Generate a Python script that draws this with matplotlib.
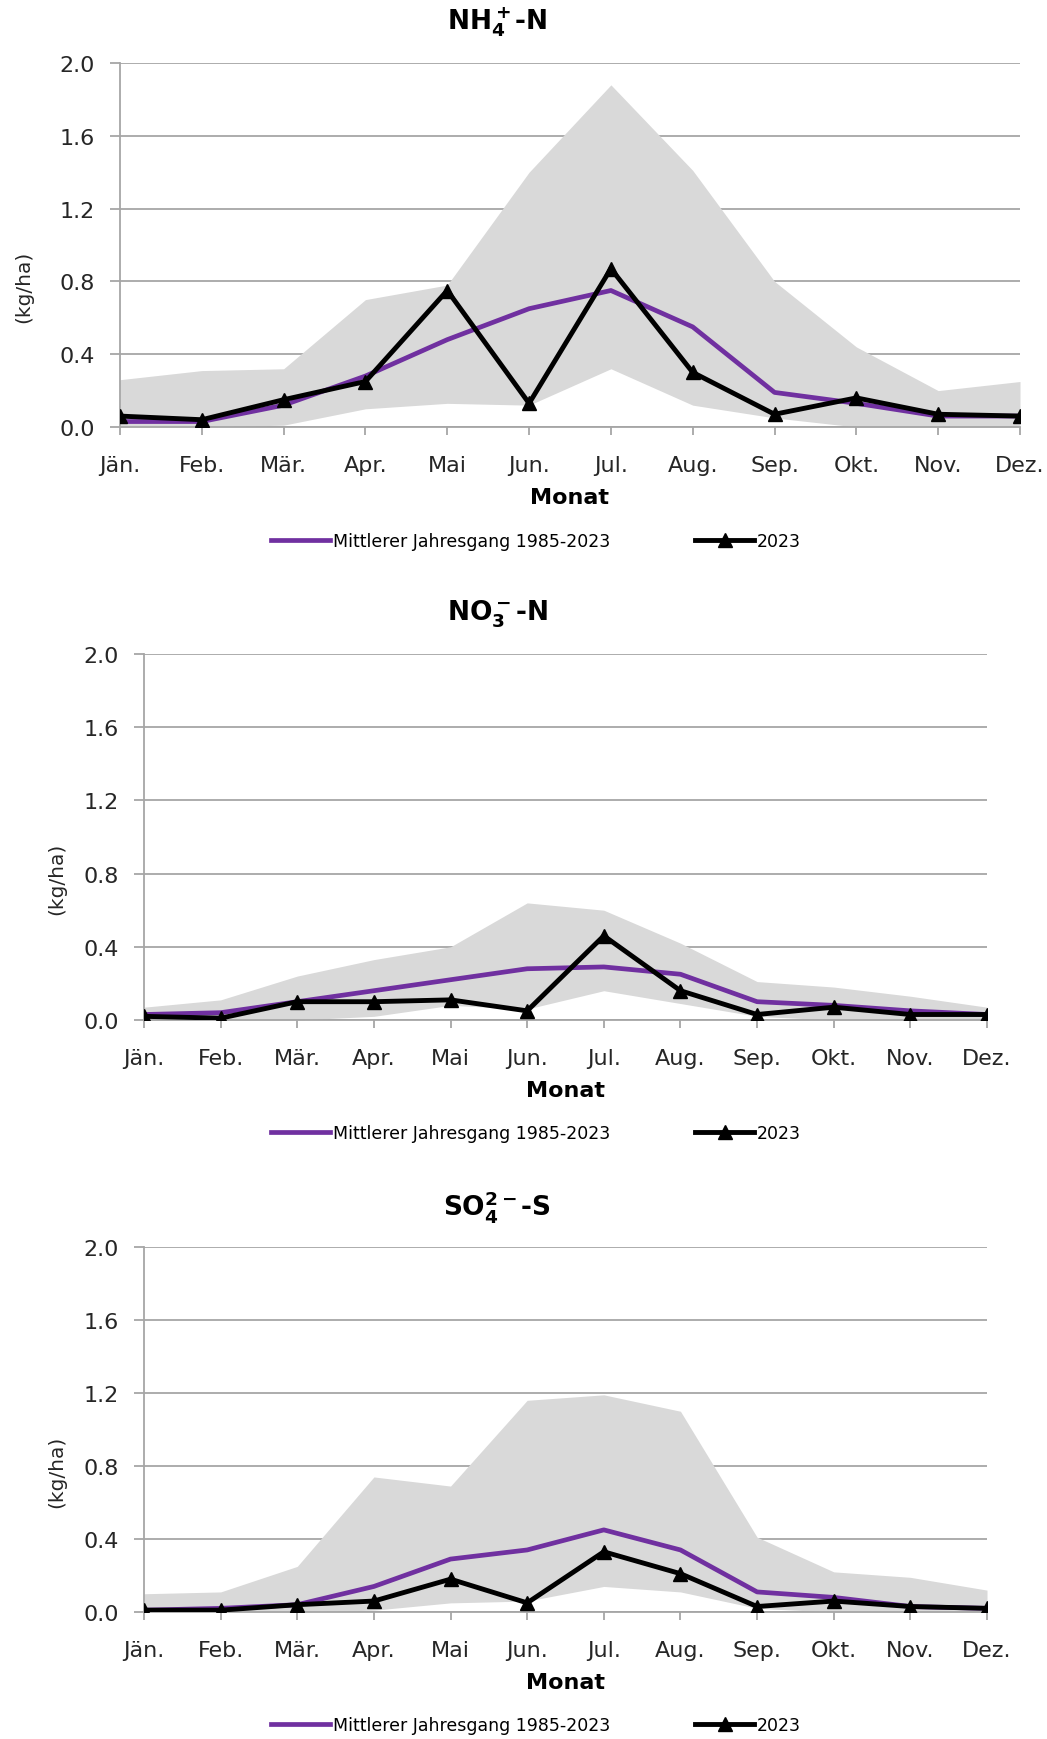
import matplotlib.pyplot as plt

months = ['Jän.', 'Feb.', 'Mär.', 'Apr.', 'Mai', 'Jun.', 'Jul.', 'Aug.',
          'Sep.', 'Okt.', 'Nov.', 'Dez.']
yticks = [0.0, 0.4, 0.8, 1.2, 1.6, 2.0]

# NH4+-N
nh4_max = [0.26, 0.31, 0.32, 0.70, 0.78, 1.40, 1.88, 1.41, 0.80, 0.44, 0.20, 0.25]
nh4_min = [0.00, 0.00, 0.01, 0.10, 0.13, 0.12, 0.32, 0.12, 0.05, 0.00, 0.00, 0.00]
nh4_mean = [0.03, 0.03, 0.12, 0.28, 0.48, 0.65, 0.75, 0.55, 0.19, 0.13, 0.06, 0.06]
nh4_2023 = [0.06, 0.04, 0.15, 0.25, 0.75, 0.13, 0.87, 0.30, 0.07, 0.16, 0.07, 0.06]

# NO3--N
no3_max = [0.07, 0.11, 0.24, 0.33, 0.40, 0.64, 0.60, 0.42, 0.21, 0.18, 0.13, 0.07]
no3_min = [0.00, 0.00, 0.00, 0.02, 0.08, 0.06, 0.16, 0.09, 0.02, 0.00, 0.00, 0.00]
no3_mean = [0.03, 0.04, 0.10, 0.16, 0.22, 0.28, 0.29, 0.25, 0.10, 0.08, 0.05, 0.03]
no3_2023 = [0.02, 0.01, 0.10, 0.10, 0.11, 0.05, 0.46, 0.16, 0.03, 0.07, 0.03, 0.03]

# SO4 2--S
so4_max = [0.10, 0.11, 0.25, 0.74, 0.69, 1.16, 1.19, 1.10, 0.41, 0.22, 0.19, 0.12]
so4_min = [0.00, 0.00, 0.00, 0.01, 0.05, 0.06, 0.14, 0.11, 0.02, 0.00, 0.00, 0.00]
so4_mean = [0.01, 0.02, 0.04, 0.14, 0.29, 0.34, 0.45, 0.34, 0.11, 0.08, 0.03, 0.02]
so4_2023 = [0.01, 0.01, 0.04, 0.06, 0.18, 0.05, 0.33, 0.21, 0.03, 0.06, 0.03, 0.02]

plt.rcParams['font.family'] = ['DejaVu Sans']

W, H = 1047, 1740
fig = plt.figure(figsize=(W / 100, H / 100), dpi=100)

GRID = '#A6A6A6'
BAND = '#D9D9D9'
PURPLE = '#7030A0'


def px_axes(left, right, top, bottom):
    return fig.add_axes([left / W, 1 - bottom / H, (right - left) / W, (bottom - top) / H])


def panel(left, right, top, bottom, title, title_y, legend_y, ylab_x,
          mx, mn, mean, yr):
    ax = px_axes(left, right, top, bottom)
    x = list(range(len(months)))
    ax.fill_between(x, mn, mx, color=BAND, lw=0, zorder=2)
    ax.plot(x, mean, color=PURPLE, lw=3.4, zorder=3,
            label='Mittlerer Jahresgang 1985-2023')
    ax.plot(x, yr, color='black', lw=3.5, marker='^', ms=10, zorder=4,
            label='2023')
    ax.set_xlim(0, 11)
    ax.set_ylim(0, 2.0)
    ax.set_yticks(yticks)
    ax.set_yticklabels(['%.1f' % v for v in yticks])
    ax.set_xticks(x)
    ax.set_xticklabels(months)
    ax.yaxis.grid(True, color=GRID, lw=1.3, zorder=1)
    ax.set_axisbelow(True)
    for s in ('top', 'right'):
        ax.spines[s].set_visible(False)
    for s in ('left', 'bottom'):
        ax.spines[s].set_color(GRID)
        ax.spines[s].set_linewidth(1.3)
    ax.tick_params(axis='both', colors=GRID, width=1.3,
                   labelcolor='#262626', labelsize=16)
    ax.tick_params(axis='x', length=6, pad=14)
    ax.tick_params(axis='y', length=7, pad=11)
    ax.set_xlabel('Monat', fontsize=16, fontweight='bold', labelpad=9)
    ax.set_ylabel('(kg/ha)', fontsize=14.5, color='#262626')
    ax.yaxis.set_label_coords((ylab_x - left) / (right - left), 0.388)
    fig.text(497 / W, 1 - title_y / H, title, fontsize=19,
             fontweight='bold', ha='center', va='center')
    fig.legend(handles=ax.get_lines(), loc='center',
               bbox_to_anchor=(536 / W, 1 - legend_y / H),
               ncol=2, frameon=False, fontsize=12.5, handlelength=3.4,
               handletextpad=0.15, columnspacing=4.9)
    return ax


panel(120, 1020, 64, 428, r'$\mathbf{NH_4^+}$-N', 22, 542, 33,
      nh4_max, nh4_min, nh4_mean, nh4_2023)
panel(144, 987, 655, 1021, r'$\mathbf{NO_3^-}$-N', 614, 1134, 66,
      no3_max, no3_min, no3_mean, no3_2023)
panel(144, 987, 1248, 1613, r'$\mathbf{SO_4^{2-}}$-S', 1207, 1726, 66,
      so4_max, so4_min, so4_mean, so4_2023)

fig.savefig('out.png', dpi=100)
